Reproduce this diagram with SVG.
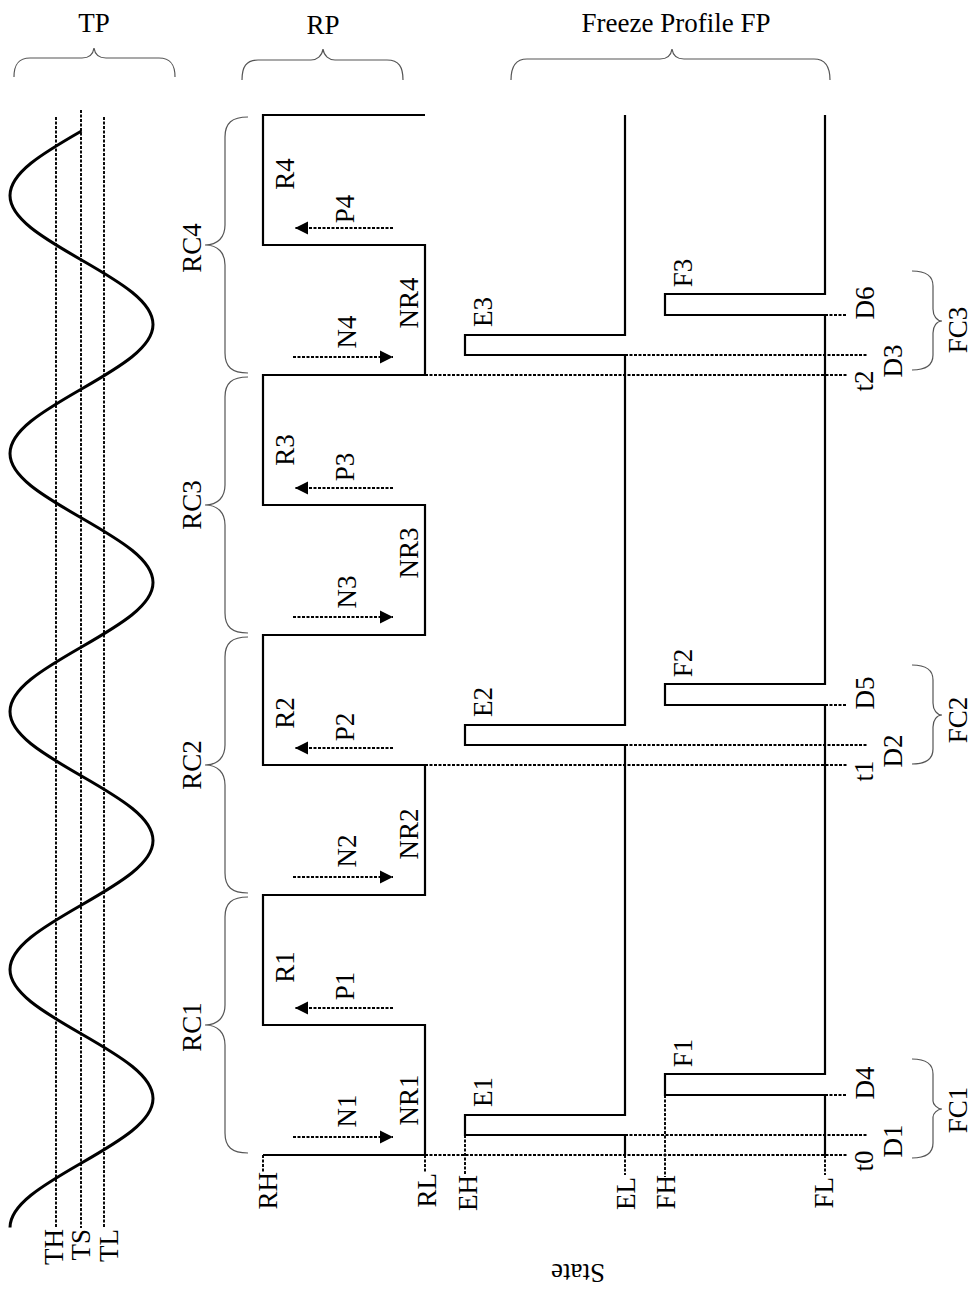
<svg xmlns="http://www.w3.org/2000/svg" width="975" height="1289" viewBox="0 0 975 1289">
<style>
text{font-family:"Liberation Serif","Times New Roman",serif;font-size:27px;fill:#000}
.m{text-anchor:middle}
.e{text-anchor:end}
.sol{fill:none;stroke:#000;stroke-width:2.2;stroke-linejoin:miter}
.dot{fill:none;stroke:#000;stroke-width:1.9;stroke-dasharray:3 1.5}
.br{fill:none;stroke:#555;stroke-width:1.2}
.wave{fill:none;stroke:#000;stroke-width:3}
.arr{fill:none;stroke:#000;stroke-width:1.9;stroke-dasharray:3 1.5;marker-end:url(#ah)}
</style>
<defs>
<marker id="ah" markerUnits="userSpaceOnUse" markerWidth="14" markerHeight="14" viewBox="0 0 14 14" refX="13" refY="7" orient="auto"><path d="M0,0.5 L13,7 L0,13.5 z" fill="#000"/></marker>
</defs>
<rect width="975" height="1289" fill="#fff"/>

<g id="headers">
<text class="m" x="94" y="32">TP</text>
<text class="m" x="323" y="34">RP</text>
<text class="m" x="676" y="32">Freeze Profile FP</text>
<path class="br" d="M14 77 C14 65 18 58 30 58 L82 58 C88 58 93 55 94 48 C95 55 100 58 106 58 L159 58 C171 58 175 65 175 77"/>
<path class="br" d="M242 80 C242 67 246 60 258 60 L311 60 C317 60 322 56 323 49 C324 56 329 60 335 60 L387 60 C399 60 403 67 403 80"/>
<path class="br" d="M511 80 C511 67 515 59 527 59 L660 59 C666 59 671 56 672 49 C673 56 678 59 684 59 L814 59 C826 59 830 67 830 80"/>
</g>

<g id="tp">
<path class="dot" d="M56 117 V1228 M81 110 V1228 M104 117 V1228"/>
<path class="wave" d="M81.5 131 C42 153.7 10 172.8 10 195.5 S42 237.3 81.5 260 S153 301.8 153 324.5 S121 366.3 81.5 389 S10 430.8 10 453.5 S42 495.3 81.5 518 S153 559.8 153 582.5 S121 624.3 81.5 647 S10 688.8 10 711.5 S42 753.3 81.5 776 S153 817.8 153 840.5 S121 882.3 81.5 905 S10 946.8 10 969.5 S42 1011.3 81.5 1034 S153 1075.8 153 1098.5 S121 1140.3 81.5 1163 S10 1204.8 10 1227.5"/>
<text class="e" transform="translate(63,1229) rotate(-90)">TH</text>
<text class="e" transform="translate(90,1229) rotate(-90)">TS</text>
<text class="e" transform="translate(118,1229) rotate(-90)">TL</text>
</g>

<g id="rp">
<path class="sol" d="M263 1155 H425 V1025 H263 V895 H425 V765 H263 V635 H425 V505 H263 V375 H425 V245 H263 V115 H425"/>
<path class="br" d="M248 117 C232 117 225 123 225 137 L225 225 C225 237 218 245 205 245 C218 245 225 253 225 265 L225 353 C225 367 232 373 248 373"/>
<path class="br" d="M248 377 C232 377 225 383 225 397 L225 485 C225 497 218 505 205 505 C218 505 225 513 225 525 L225 613 C225 627 232 633 248 633"/>
<path class="br" d="M248 637 C232 637 225 643 225 657 L225 745 C225 757 218 765 205 765 C218 765 225 773 225 785 L225 873 C225 887 232 893 248 893"/>
<path class="br" d="M248 897 C232 897 225 903 225 917 L225 1005 C225 1017 218 1025 205 1025 C218 1025 225 1033 225 1045 L225 1133 C225 1147 232 1153 248 1153"/>
<text class="m" transform="translate(201,248) rotate(-90)">RC4</text>
<text class="m" transform="translate(201,505) rotate(-90)">RC3</text>
<text class="m" transform="translate(201,765) rotate(-90)">RC2</text>
<text class="m" transform="translate(201,1027) rotate(-90)">RC1</text>
<text class="m" transform="translate(294,174) rotate(-90)">R4</text>
<text class="m" transform="translate(294,450) rotate(-90)">R3</text>
<text class="m" transform="translate(294,713) rotate(-90)">R2</text>
<text class="m" transform="translate(294,967) rotate(-90)">R1</text>
<text class="m" transform="translate(354,209) rotate(-90)">P4</text>
<text class="m" transform="translate(354,467) rotate(-90)">P3</text>
<text class="m" transform="translate(354,727) rotate(-90)">P2</text>
<text class="m" transform="translate(354,986) rotate(-90)">P1</text>
<text class="m" transform="translate(356,332) rotate(-90)">N4</text>
<text class="m" transform="translate(356,592) rotate(-90)">N3</text>
<text class="m" transform="translate(356,851) rotate(-90)">N2</text>
<text class="m" transform="translate(356,1111) rotate(-90)">N1</text>
<text class="m" transform="translate(418,303) rotate(-90)">NR4</text>
<text class="m" transform="translate(418,553) rotate(-90)">NR3</text>
<text class="m" transform="translate(418,834) rotate(-90)">NR2</text>
<text class="m" transform="translate(418,1100) rotate(-90)">NR1</text>
<text class="e" transform="translate(277,1172) rotate(-90)">RH</text>
<text class="e" transform="translate(436,1173) rotate(-90)">RL</text>
</g>

<g id="fp">
<path class="sol" d="M625 115 V335 H465 V355 H625 V725 H465 V745 H625 V1115 H465 V1135 H625 V1155"/>
<path class="sol" d="M825 115 V294 H665 V315 H825 V684 H665 V705 H825 V1074 H665 V1095 H825 V1155"/>
<text class="m" transform="translate(492,312) rotate(-90)">E3</text>
<text class="m" transform="translate(492,702) rotate(-90)">E2</text>
<text class="m" transform="translate(492,1092) rotate(-90)">E1</text>
<text class="m" transform="translate(692,273) rotate(-90)">F3</text>
<text class="m" transform="translate(692,663) rotate(-90)">F2</text>
<text class="m" transform="translate(692,1053) rotate(-90)">F1</text>
<text class="m" transform="translate(874,303) rotate(-90)">D6</text>
<text class="m" transform="translate(874,693) rotate(-90)">D5</text>
<text class="m" transform="translate(874,1083) rotate(-90)">D4</text>
<text class="m" transform="translate(902,361) rotate(-90)">D3</text>
<text class="m" transform="translate(902,751) rotate(-90)">D2</text>
<text class="m" transform="translate(902,1141) rotate(-90)">D1</text>
<text class="m" transform="translate(873,381) rotate(-90)">t2</text>
<text class="m" transform="translate(873,771) rotate(-90)">t1</text>
<text class="m" transform="translate(873,1161) rotate(-90)">t0</text>
<path class="br" d="M912 271 C925 271 933 276 933 286 L933 309 C933 316 937 321 942 321 C937 321 933 326 933 333 L933 355 C933 365 925 370 912 370"/>
<path class="br" d="M912 665 C925 665 933 670 933 680 L933 703 C933 710 937 715 942 715 C937 715 933 720 933 727 L933 749 C933 759 925 764 912 764"/>
<path class="br" d="M912 1059 C925 1059 933 1064 933 1074 L933 1101 C933 1104 937 1109 942 1109 C937 1109 933 1114 933 1117 L933 1143 C933 1153 925 1158 912 1158"/>
<text class="m" transform="translate(967,330) rotate(-90)">FC3</text>
<text class="m" transform="translate(967,720) rotate(-90)">FC2</text>
<text class="m" transform="translate(967,1110) rotate(-90)">FC1</text>
<text class="e" transform="translate(477,1175) rotate(-90)">EH</text>
<text class="e" transform="translate(635,1177) rotate(-90)">EL</text>
<text class="e" transform="translate(675,1175) rotate(-90)">FH</text>
<text class="e" transform="translate(833,1177) rotate(-90)">FL</text>
</g>

<g id="connectors">
<path class="dot" d="M425 1155 H847 M425 765 H847 M425 375 H847"/>
<path class="dot" d="M625 1135 H867 M625 745 H867 M625 355 H867"/>
<path class="dot" d="M825 1095 H847 M825 705 H847 M825 315 H847"/>
<path class="dot" d="M263 1155 V1172 M425 1155 V1172 M465 1135 V1175 M625 1155 V1175 M665 1095 V1177 M825 1155 V1175"/>
<path class="arr" d="M393 228 H295"/>
<path class="arr" d="M393 488 H295"/>
<path class="arr" d="M393 748 H295"/>
<path class="arr" d="M393 1008 H295"/>
<path class="arr" d="M293 357 H393"/>
<path class="arr" d="M293 617 H393"/>
<path class="arr" d="M293 877 H393"/>
<path class="arr" d="M293 1137 H393"/>
</g>

<text class="m" transform="translate(578,1264) rotate(180)">State</text>
</svg>
